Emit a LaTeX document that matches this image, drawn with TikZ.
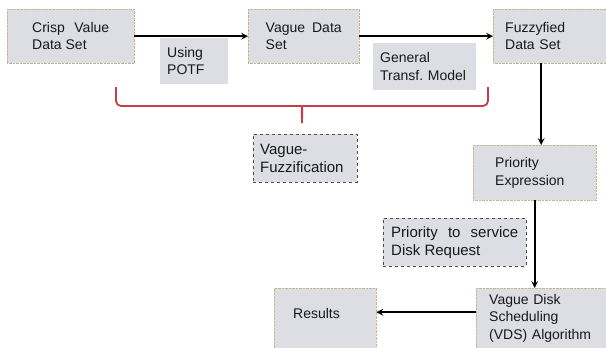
\documentclass[tikz,border=0pt]{standalone}
\usepackage{fontspec}
\setmainfont{Liberation Sans}
\usepackage{tikz}
\usetikzlibrary{arrows}

\definecolor{boxfill}{RGB}{221,222,228}
\definecolor{boxedge}{RGB}{198,182,138}
\definecolor{bracered}{RGB}{196,64,72}

\tikzset{
  stage/.style={draw=boxedge, densely dotted, fill=boxfill, anchor=north west,
    inner sep=0pt, text=black!90, font=\fontsize{14}{17.5}\selectfont},
  note/.style={fill=boxfill, anchor=north west, align=left, inner xsep=7pt,
    text=black!90, font=\fontsize{14}{17.5}\selectfont},
  remark/.style={note, draw=black!70, dashed, font=\fontsize{15}{18}\selectfont},
  flow/.style={line width=2pt,->,>=stealth}
}

\begin{document}
\begin{tikzpicture}[x=1pt,y=-1pt]
  \clip (0,0) rectangle (606,348);

  % top row: data sets
  \node [stage, minimum width=127, minimum height=54, text width=77, align=justify]
    (crisp) at (7,9) {Crisp Value Data Set};
  \node [stage, minimum width=111, minimum height=54, text width=76, align=justify]
    (vague) at (248,9) {Vague Data Set};
  \node [stage, minimum width=114, minimum height=54, text width=90, align=left]
    (fuzzy) at (493,9) {Fuzzyfied\\Data Set};

  \node [note, minimum height=46, text width=54] (potf) at (160,38) {Using\\POTF};
  \node [note, minimum height=47, text width=89] (gtm) at (373,43) {General\\Transf.\ Model};

  % brace under the first two steps
  \draw [bracered, line width=1.8pt, rounded corners=5pt]
    (116,87) |- (296,106) to[out=0,in=90] (302,123);
  \draw [bracered, line width=1.8pt, rounded corners=5pt]
    (302,123) to[out=90,in=180] (308,106) -| (488,87);
  \node [remark, minimum height=48, text width=90] (vf) at (253,134) {Vague-\\Fuzzification};

  % right column
  \node [stage, minimum width=123, minimum height=55, text width=79, align=left]
    (prio) at (473,145) {Priority\\Expression};
  \node [remark, inner xsep=8pt, minimum height=48, text width=127, align=justify]
    (svc) at (383,218) {Priority to service Disk Request};
  \node [stage, minimum width=131, minimum height=60, text width=105, align=left]
    (vds) at (476,288) {Vague Disk\\Scheduling\\(VDS) Algorithm};
  \node [stage, minimum width=102, minimum height=70, text width=64, text depth=20pt]
    (res) at (274,288) {Results};

  \draw [flow] (crisp.east) -- (vague.west);
  \draw [flow] (vague.east) -- (fuzzy.west);
  \draw [flow] ([xshift=6.5pt]prio.north |- fuzzy.south) -- ([xshift=6.5pt]prio.north);
  \draw [flow] (prio.south) -- (prio.south |- vds.north);
  \draw [flow] ([yshift=6pt]vds.west) -- ([yshift=6pt]vds.west -| res.east);
\end{tikzpicture}
\end{document}
